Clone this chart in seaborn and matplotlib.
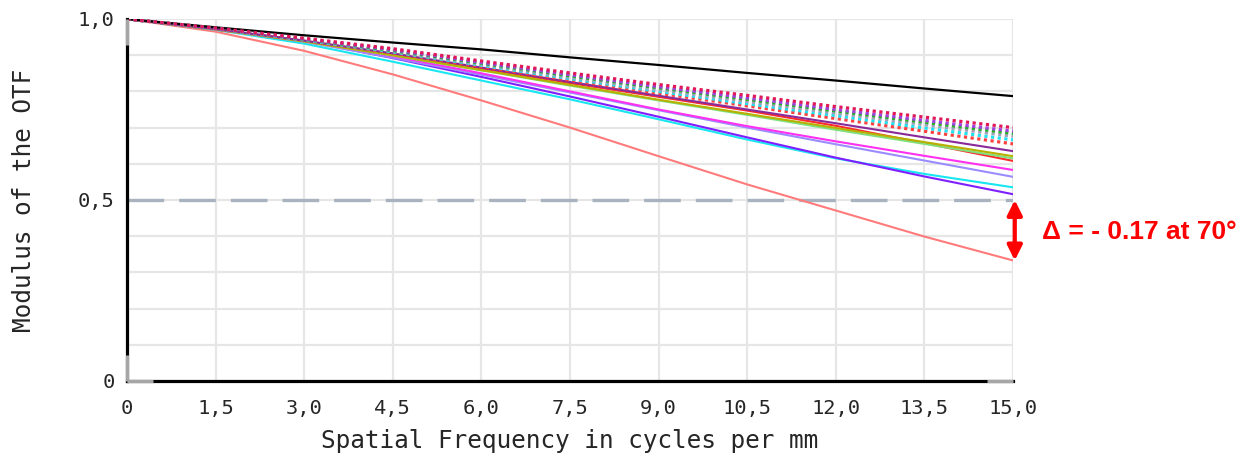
import numpy as np
import pandas as pd
import matplotlib
matplotlib.use("Agg")
import matplotlib.pyplot as plt
import seaborn as sns

# ---- data ----
freq = [0, 1.5, 3.0, 4.5, 6.0, 7.5, 9.0, 10.5, 12.0, 13.5, 15.0]

black_diff = [1, .977, .955, .935, .916, .894, .873, .851, .830, .808, .787]
crimson_dot = [1, .975, .947, .918, .884, .851, .819, .789, .758, .729, .700]
purple_dot = [1, .974, .945, .915, .880, .846, .813, .782, .750, .720, .690]
green_dot = [1, .974, .944, .913, .878, .843, .810, .778, .746, .715, .684]
gray_dot = [1, .973, .943, .911, .875, .839, .805, .772, .740, .708, .676]
cyan_dot = [1, .973, .942, .909, .872, .835, .800, .766, .733, .699, .666]
red_dot = [1, .972, .941, .907, .869, .831, .795, .760, .725, .690, .655]
dpurple = [1, .972, .940, .905, .866, .826, .788, .750, .712, .673, .635]
olive = [1, .971, .938, .900, .859, .818, .777, .738, .699, .660, .621]
lgreen = [1, .971, .938, .899, .858, .816, .775, .735, .694, .655, .615]
red = [1, .972, .940, .903, .863, .823, .785, .747, .705, .657, .608]
magenta = [1, .972, .939, .897, .850, .800, .750, .704, .662, .622, .583]
lavender = [1, .971, .937, .893, .846, .797, .748, .700, .654, .609, .564]
cyan = [1, .970, .932, .882, .830, .778, .723, .667, .615, .572, .535]
violet = [1, .972, .940, .892, .840, .786, .730, .673, .617, .565, .516]
salmon = [1, .965, .912, .847, .775, .700, .621, .543, .471, .399, .333]

threshold = 0.5
delta_label = "Δ = - 0.17 at 70°"
xtick_vals = [0, 1.5, 3.0, 4.5, 6.0, 7.5, 9.0, 10.5, 12.0, 13.5, 15.0]
xtick_labels = ["0", "1,5", "3,0", "4,5", "6,0", "7,5", "9,0", "10,5", "12,0", "13,5", "15,0"]
ytick_vals = [0, 0.5, 1.0]
ytick_labels = ["0", "0,5", "1,0"]

# (values, colour, dotted?)
series = [
    (salmon, "#ff7b7b", False),
    (cyan, "#18e6f0", False),
    (violet, "#7f1fff", False),
    (lavender, "#9a8cff", False),
    (magenta, "#ff30f0", False),
    (red, "#ff2a2a", False),
    (lgreen, "#7ee07e", False),
    (olive, "#b8b000", False),
    (dpurple, "#8a2a9a", False),
    (red_dot, "#ff4040", True),
    (cyan_dot, "#20e0f0", True),
    (gray_dot, "#a0a0b8", True),
    (green_dot, "#20b020", True),
    (purple_dot, "#a040e0", True),
    (crimson_dot, "#e0185a", True),
    (black_diff, "#000000", False),
]

sns.set_theme(style="white")
plt.rcParams["font.family"] = ["DejaVu Sans Mono", "DejaVu Sans"]

fig = plt.figure(figsize=(12.58, 4.57), dpi=100)
ax = fig.add_axes([127 / 1258, 1 - 381 / 457, 886 / 1258, 362 / 457])

for vals, col, dotted in series:
    df = pd.DataFrame({"f": freq, "m": vals})
    if dotted:
        sns.lineplot(data=df, x="f", y="m", ax=ax, color=col, lw=2.3,
                     linestyle=(0, (1, 1.1)), zorder=4)
    else:
        sns.lineplot(data=df, x="f", y="m", ax=ax, color=col,
                     lw=1.5 if col != "#000000" else 1.6, zorder=3)

ax.axhline(threshold, color="#a8b3bf", lw=2.4, dashes=(11, 4.5), zorder=2)

ax.set_xlim(0, 15)
ax.set_ylim(0, 1)
ax.set_xticks(xtick_vals)
ax.set_xticklabels(xtick_labels, fontsize=14.7)
ax.set_yticks(ytick_vals)
ax.set_yticklabels(ytick_labels, fontsize=14.7)
ax.set_yticks(np.arange(0, 1.01, 0.1), minor=True)
ax.grid(True, which="both", color="#e6e6e6", lw=1.6, zorder=0)
ax.tick_params(axis="both", which="both", length=0)
ax.tick_params(axis="x", pad=13)
ax.tick_params(axis="y", pad=9)

ax.set_xlabel("Spatial Frequency in cycles per mm", fontsize=17.6, labelpad=8)
ax.set_ylabel("Modulus of the OTF", fontsize=17.6, labelpad=30)

for s in ["top", "right"]:
    ax.spines[s].set_visible(False)
for s in ["left", "bottom"]:
    ax.spines[s].set_color("black")
    ax.spines[s].set_linewidth(2.3)
    ax.spines[s].set_zorder(5)

# grey ends of the axis lines
gk = dict(transform=ax.transAxes, color="#a6a6a6", lw=2.3, clip_on=False,
          zorder=6, solid_capstyle="butt")
ax.plot([0, 0], [0.928, 1.0], **gk)
ax.plot([0, 0], [0.0, 0.072], **gk)
ax.plot([0, 0.029], [0, 0], **gk)
ax.plot([0.971, 1.0], [0, 0], **gk)

# delta annotation
ax.annotate("", xy=(15.03, salmon[-1]), xytext=(15.03, threshold),
            arrowprops=dict(arrowstyle="<|-|>", color="#ff0000", lw=3,
                            mutation_scale=22, shrinkA=0, shrinkB=0),
            annotation_clip=False)
ax.text(15.49, 0.412, delta_label, color="#ff0000", fontsize=19,
        fontweight="bold", family=["Liberation Sans", "DejaVu Sans"],
        va="center", ha="left", clip_on=False)

fig.savefig("out.png", dpi=100)
